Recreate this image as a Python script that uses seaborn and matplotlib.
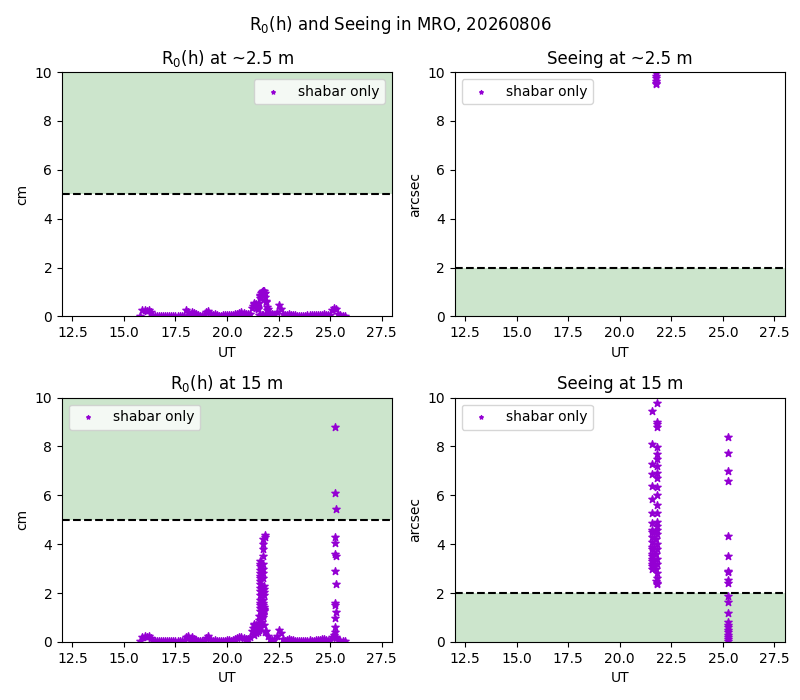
import pandas as pd
import seaborn as sns
import matplotlib.pyplot as plt

# base sampling of the night (UT, hours)
ut = [15.8, 15.9, 16.0, 16.1, 16.2, 16.3, 16.4, 16.5, 16.6, 16.7,
      16.8, 16.9, 17.0, 17.1, 17.2, 17.3, 17.4, 17.5, 17.6, 17.7,
      17.8, 17.9, 18.0, 18.1, 18.2, 18.3, 18.4, 18.5, 18.6, 18.7,
      18.8, 18.9, 19.0, 19.1, 19.2, 19.3, 19.4, 19.5, 19.6, 19.7,
      19.8, 19.9, 20.0, 20.1, 20.2, 20.3, 20.4, 20.5, 20.6, 20.7,
      20.8, 20.9, 21.0, 21.1, 21.2, 21.3, 21.4, 21.5, 21.6, 21.7,
      21.8, 21.9, 22.0, 22.1, 22.2, 22.3, 22.4, 22.5, 22.6, 22.7,
      22.8, 22.9, 23.0, 23.1, 23.2, 23.3, 23.4, 23.5, 23.6, 23.7,
      23.8, 23.9, 24.0, 24.1, 24.2, 24.3, 24.4, 24.5, 24.6, 24.7,
      24.8, 24.9, 25.0, 25.1, 25.2, 25.3, 25.4, 25.5, 25.6, 25.7]

# R0 at ~2.5 m (cm)
r0_low = [0.03, 0.25, 0.28, 0.22, 0.26, 0.20, 0.03, 0.02, 0.02, 0.02,
          0.02, 0.03, 0.02, 0.02, 0.03, 0.02, 0.02, 0.02, 0.03, 0.02,
          0.02, 0.03, 0.25, 0.20, 0.05, 0.18, 0.15, 0.08, 0.05, 0.03,
          0.03, 0.05, 0.20, 0.22, 0.08, 0.04, 0.08, 0.05, 0.03, 0.03,
          0.04, 0.05, 0.05, 0.06, 0.05, 0.06, 0.08, 0.10, 0.15, 0.18,
          0.15, 0.10, 0.08, 0.12, 0.35, 0.50, 0.45, 0.30, 0.85, 1.00,
          0.90, 0.60, 0.30, 0.15, 0.08, 0.05, 0.20, 0.45, 0.30, 0.10,
          0.04, 0.06, 0.08, 0.05, 0.07, 0.04, 0.02, 0.02, 0.02, 0.02,
          0.02, 0.04, 0.05, 0.05, 0.04, 0.05, 0.06, 0.05, 0.04, 0.08,
          0.05, 0.04, 0.05, 0.25, 0.35, 0.30, 0.10, 0.04, 0.02, 0.02]
ut_low_pk = [21.52, 21.55, 21.58, 21.62, 21.65, 21.68, 21.72, 21.75, 21.78, 21.82, 21.85,
             21.88, 21.92, 21.95, 21.98, 21.55, 21.62, 21.68, 21.75, 21.82, 21.88, 21.95,
             21.25, 21.3, 21.35, 21.4, 21.45]
r0_low_pk = [0.35, 0.55, 0.75, 0.88, 0.95, 1.02, 1.05, 1.06, 1.03, 0.95, 0.80,
             0.62, 0.40, 0.25, 0.12, 0.05, 0.04, 0.06, 0.05, 0.07, 0.05, 0.04,
             0.42, 0.55, 0.48, 0.52, 0.40]

# R0 at 15 m (cm)
r0_high = [0.03, 0.22, 0.25, 0.20, 0.24, 0.18, 0.03, 0.02, 0.02, 0.02,
           0.02, 0.02, 0.03, 0.02, 0.02, 0.02, 0.03, 0.02, 0.02, 0.02,
           0.02, 0.03, 0.22, 0.24, 0.06, 0.20, 0.12, 0.08, 0.04, 0.03,
           0.03, 0.05, 0.18, 0.24, 0.08, 0.05, 0.07, 0.04, 0.03, 0.03,
           0.04, 0.05, 0.06, 0.08, 0.05, 0.06, 0.10, 0.15, 0.20, 0.22,
           0.18, 0.12, 0.10, 0.20, 0.45, 0.70, 0.65, 0.40, 0.60, 0.80,
           0.70, 0.45, 0.25, 0.12, 0.08, 0.06, 0.25, 0.50, 0.35, 0.12,
           0.05, 0.08, 0.10, 0.06, 0.08, 0.05, 0.03, 0.03, 0.03, 0.03,
           0.03, 0.05, 0.06, 0.05, 0.04, 0.06, 0.08, 0.06, 0.10, 0.12,
           0.08, 0.05, 0.06, 0.20, 0.30, 0.15, 0.08, 0.04, 0.02, 0.02]
ut_high_pk = [21.57, 21.58, 21.59, 21.60, 21.58, 21.59, 21.60, 21.61, 21.58, 21.59,
              21.60, 21.61, 21.58, 21.59, 21.60, 21.61, 21.58, 21.59, 21.55, 21.56, 21.57,
              21.74, 21.75, 21.76, 21.77, 21.78, 21.79, 21.80, 21.74, 21.75, 21.76,
              21.77, 21.78, 21.79, 21.80, 21.74, 21.75, 21.76, 21.72, 21.73, 21.74,
              21.75, 21.76, 21.82, 21.84, 21.86,
              21.25, 21.3, 21.35, 21.4, 21.45, 21.3, 21.4]
r0_high_pk = [1.07, 1.25, 1.39, 1.50, 1.60, 1.73, 1.90, 2.10, 2.20, 2.35,
              2.50, 2.60, 2.70, 2.80, 2.95, 3.10, 3.20, 3.30, 0.50, 0.70, 0.90,
              1.03, 1.12, 1.15, 1.27, 1.31, 1.35, 1.43, 1.52, 1.60, 1.70,
              1.92, 2.05, 2.15, 2.30, 2.60, 2.80, 3.00, 3.20, 3.50, 3.80,
              4.00, 4.20, 4.30, 4.37, 0.40,
              0.55, 0.72, 0.60, 0.68, 0.50, 0.30, 0.35]
ut_high_sp = [25.25, 25.25, 25.26, 25.24, 25.25, 25.24, 25.26, 25.25, 25.26,
              25.24, 25.25, 25.26, 25.25, 25.24, 25.25, 25.26]
r0_high_sp = [8.78, 6.08, 5.43, 4.28, 4.04, 3.60, 3.50, 2.90, 2.37,
              1.60, 1.50, 1.22, 0.98, 0.60, 0.40, 0.20]

# Seeing (arcsec)
ut_see_low = [21.74, 21.74, 21.74, 21.74, 21.74, 21.74, 21.74]
see_low = [9.50, 9.55, 9.65, 9.75, 9.85, 9.95, 10.0]

ut_see_high = [21.55, 21.55, 21.55, 21.55, 21.55, 21.55, 21.55, 21.55, 21.56, 21.55,
               21.54, 21.56, 21.55, 21.54, 21.56, 21.55, 21.54, 21.56, 21.55, 21.54, 21.56,
               21.79, 21.79, 21.79, 21.79, 21.79, 21.79, 21.79, 21.79, 21.79, 21.79,
               21.79, 21.79, 21.79, 21.79, 21.79, 21.79, 21.80, 21.79, 21.78, 21.80,
               21.79, 21.78, 21.80, 21.79, 21.78, 21.80, 21.79, 21.78, 21.79, 21.80,
               25.26, 25.25, 25.25, 25.24, 25.26, 25.26, 25.25, 25.26, 25.25, 25.24,
               25.25, 25.26, 25.25, 25.25, 25.26, 25.24, 25.25, 25.26, 25.25, 25.24,
               25.25, 25.26]
see_high = [9.47, 8.10, 7.30, 6.86, 6.40, 5.84, 5.27, 4.86, 4.60, 4.50,
            4.30, 4.10, 3.90, 3.80, 3.60, 3.50, 3.40, 3.30, 3.20, 3.10, 3.00,
            9.78, 9.00, 8.90, 8.80, 7.96, 7.70, 7.47, 7.20, 6.90, 6.70,
            6.33, 6.00, 5.60, 5.27, 4.90, 4.75, 4.60, 4.40, 4.20, 4.00,
            3.80, 3.60, 3.40, 3.20, 3.00, 2.80, 2.60, 2.50, 2.40, 2.35,
            8.40, 7.75, 6.98, 6.57, 4.33, 3.51, 2.90, 2.85, 2.55, 2.40,
            1.87, 1.63, 1.18, 0.80, 0.70, 0.60, 0.50, 0.40, 0.30, 0.20,
            0.10, 0.05]

df_r0_low = pd.DataFrame({"UT": ut + ut_low_pk, "R0": r0_low + r0_low_pk})
df_r0_high = pd.DataFrame({"UT": ut + ut_high_pk + ut_high_sp,
                           "R0": r0_high + r0_high_pk + r0_high_sp})
df_see_low = pd.DataFrame({"UT": ut_see_low, "Seeing": see_low})
df_see_high = pd.DataFrame({"UT": ut_see_high, "Seeing": see_high})

fig, axes = plt.subplots(2, 2, figsize=(8, 7), dpi=100)

panels = [
    (axes[0, 0], df_r0_low, "R0", "R$_0$(h) at ~2.5 m", "cm", (5, 10), 5, "upper right"),
    (axes[0, 1], df_see_low, "Seeing", "Seeing at ~2.5 m", "arcsec", (0, 2), 2, "upper left"),
    (axes[1, 0], df_r0_high, "R0", "R$_0$(h) at 15 m", "cm", (5, 10), 5, "upper left"),
    (axes[1, 1], df_see_high, "Seeing", "Seeing at 15 m", "arcsec", (0, 2), 2, "upper left"),
]

for ax, df, col, title, unit, band, limit, loc in panels:
    ax.axhspan(band[0], band[1], color="green", alpha=0.2, lw=0)
    ax.axhline(limit, color="k", linestyle="--")
    sns.scatterplot(data=df, x="UT", y=col, ax=ax, marker="*", s=30,
                    color="darkviolet", edgecolor="darkviolet", linewidth=1.0,
                    label="shabar only")
    ax.set_xlim(12, 28)
    ax.set_ylim(0, 10)
    ax.set_title(title)
    ax.set_xlabel("UT")
    ax.set_ylabel(unit)
    ax.legend(loc=loc, markerscale=0.5)

fig.suptitle("R$_0$(h) and Seeing in MRO, 20260806", y=0.98)
plt.subplots_adjust(left=0.0775, right=0.981, top=0.897, bottom=0.083,
                    wspace=0.19, hspace=0.332)
plt.savefig("out.png", dpi=100)
